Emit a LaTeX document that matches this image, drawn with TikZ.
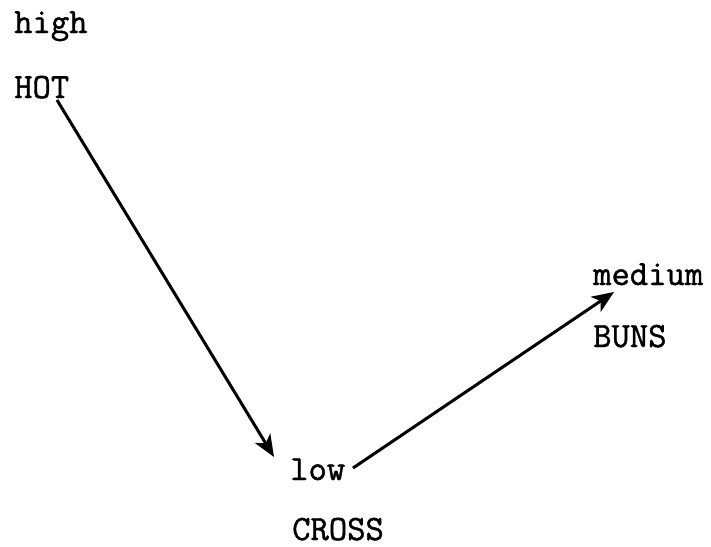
\documentclass[tikz,border=0pt]{standalone}
\usepackage{fontspec}
\setmonofont{Latin Modern Mono}[FakeBold=1.2]
\usetikzlibrary{arrows.meta}
\begin{document}
\begin{tikzpicture}[x=1pt,y=-1pt,
  lbl/.style={anchor=base west,inner sep=0pt,font=\ttfamily\fontsize{35.6}{40}\selectfont},
  arr/.style={line width=3pt,-{Stealth[length=22pt,width=18pt,inset=6pt]}}]
\useasboundingbox (0,0) rectangle (711,546);
\node[lbl] (high) at (14,33) {high};
\node[lbl] (hot) at (14,98) {HOT};
\node[lbl] (low) at (290,480) {low};
\node[lbl] (cross) at (292,540) {CROSS};
\node[lbl] (medium) at (593,285) {medium};
\node[lbl] (buns) at (593,347) {BUNS};
\coordinate (a1s) at (57,100);
\coordinate (a1e) at (274,457);
\coordinate (a2s) at (353,468);
\coordinate (a2e) at (614,292);
\draw[arr] (a1s) -- (a1e);
\draw[arr] (a2s) -- (a2e);
\end{tikzpicture}
\end{document}
